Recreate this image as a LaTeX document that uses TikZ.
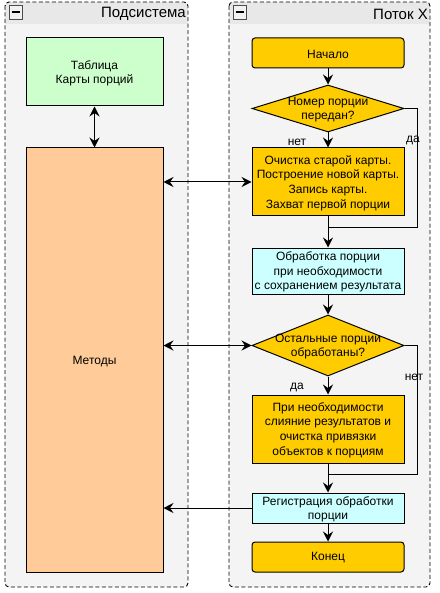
\documentclass[tikz,border=0pt]{standalone}
\usepackage{fontspec}
\setmainfont{Liberation Sans}
\usetikzlibrary{shapes.geometric,arrows.meta}
\definecolor{cyel}{HTML}{FFCC00}
\definecolor{cgrn}{HTML}{CCFFCC}
\definecolor{corg}{HTML}{FFCC99}
\definecolor{ccyn}{HTML}{CCFFFF}
\definecolor{cbody}{HTML}{F4F4F4}
\definecolor{chdr}{HTML}{E8E8E8}
\begin{document}
\begin{tikzpicture}[x=1pt,y=-1pt,
  every node/.style={font=\fontsize{12}{14.6}\selectfont},
  box/.style={draw, line width=1pt, minimum width=152pt, inner sep=0pt, align=center},
  rbox/.style={box, rounded corners=3pt, fill=cyel},
  dia/.style={draw, line width=1pt, diamond, fill=cyel, minimum width=152pt, inner sep=0pt},
  txt/.style={align=center, inner sep=0pt},
  conn/.style={line width=1pt, -{Stealth[length=10pt,width=10pt,inset=3.5pt]}},
  dconn/.style={line width=1pt, {Stealth[length=10pt,width=10pt,inset=3.5pt]}-{Stealth[length=10pt,width=10pt,inset=3.5pt]}},
  plain/.style={line width=1pt},
  frame/.style={draw, line width=0.9pt, dash pattern=on 4pt off 2.5pt, rounded corners=4pt},
  icon/.style={draw=black!70, fill=white!95!black, line width=0.8pt, minimum width=13pt, minimum height=14pt, inner sep=0pt},
  title/.style={font=\fontsize{15}{18}\selectfont, inner sep=0pt, anchor=east}
]
\useasboundingbox (0,0) rectangle (439,593);
% containers
\foreach \xa/\xb in {5/188, 229/430} {
  \fill[cbody, rounded corners=4pt] (\xa,2) rectangle (\xb,587);
  \begin{scope}
    \clip[rounded corners=4pt] (\xa,2) rectangle (\xb,587);
    \fill[chdr] (\xa,2) rectangle (\xb,24);
  \end{scope}
  \draw[frame] (\xa,2) rectangle (\xb,587);
}
\node[icon] (i1) at (15.5,12) {};
\draw[line width=1.6pt] (11.5,12) -- (19.5,12);
\node[icon] (i2) at (239.5,12) {};
\draw[line width=1.6pt] (235.5,12) -- (243.5,12);
\node[title] (t1) at (186,14) {Подсистема};
\node[title] (t2) at (428,14) {Поток X};

% left side
\node[box, fill=cgrn, minimum width=137pt, minimum height=68pt] (tab) at (94.5,72) {};
\node[txt] (tabt) at (94.5,73.5) {Таблица\\Карты порций};
\node[box, fill=corg, minimum width=137pt, minimum height=424pt] (met) at (94.5,360) {};
\node[txt] (mett) at (94.5,361.5) {Методы};

% right side
\node[rbox, minimum height=30pt] (start) at (328,53) {};
\node[txt] (startt) at (328,54) {Начало};
\node[dia, minimum height=47pt] (d1) at (328,108.5) {};
\node[txt] (d1t) at (328,109.5) {Номер порции\\передан?};
\node[box, fill=cyel, minimum height=68pt] (b2) at (328,182) {};
\node[txt] (b2t) at (328,183) {Очистка старой карты.\\Построение новой карты.\\Запись карты.\\Захват первой порции};
\node[box, fill=ccyn, minimum height=46pt] (b3) at (328,271) {};
\node[txt] (b3t) at (328,272) {Обработка порции\\при необходимости\\с сохранением результата};
\node[dia, minimum height=61pt] (d2) at (328,345.5) {};
\node[txt] (d2t) at (328,346.5) {Остальные порции\\обработаны?};
\node[box, fill=cyel, minimum height=68pt] (b4) at (328,429) {};
\node[txt] (b4t) at (328,430) {При необходимости\\слияние результатов и\\очистка привязки\\объектов к порциям};
\node[box, fill=ccyn, minimum height=30pt] (b5) at (328,508) {};
\node[txt] (b5t) at (328,509.5) {Регистрация обработки\\порции};
\node[rbox, minimum height=30pt] (end) at (328,557) {};
\node[txt] (endt) at (328,558) {Конец};

\node[txt] (l1) at (297,142) {нет};
\node[txt] (l2) at (413,140) {да};
\node[txt] (l3) at (297,387) {да};
\node[txt] (l4) at (414,377) {нет};

\coordinate (j1) at (328,228);
\coordinate (r1) at (417,108.5);
\coordinate (j2) at (328,474);
\coordinate (r2) at (417,345.5);

\draw[conn] (start) -- (d1);
\draw[conn] (d1) -- (b2);
\draw[conn] (b2) -- (b3);
\draw[plain] (d1.east) -- (r1) |- (j1);
\draw[conn] (b3) -- (d2);
\draw[conn] (d2) -- (b4);
\draw[conn] (b4) -- (b5);
\draw[plain] (d2.east) -- (r2) |- (j2);
\draw[conn] (b5) -- (end);

\draw[dconn] (tab) -- (met);
\draw[dconn] (met.east |- b2) -- (b2.west);
\draw[dconn] (met.east |- d2) -- (d2.west);
\draw[conn] (b5.west) -- (met.east |- b5);
\end{tikzpicture}
\end{document}
